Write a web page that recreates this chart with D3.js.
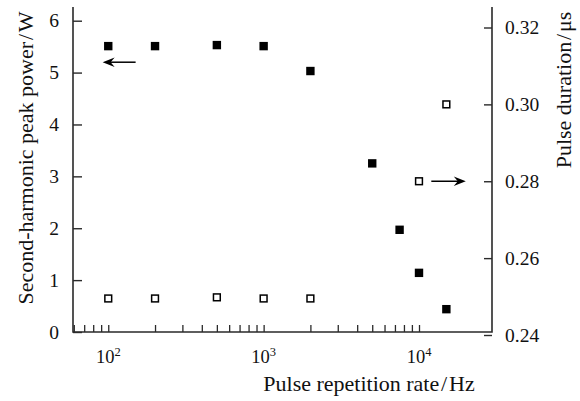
<!DOCTYPE html>
<html>
<head>
<meta charset="utf-8">
<script src="https://cdn.jsdelivr.net/npm/d3@7"></script>
<style>
body { margin: 0; background: #fff; }
svg { display: block; }
text { font-family: "Liberation Serif", "Times New Roman", serif; fill: #111; }
</style>
</head>
<body>
<svg id="chart" width="580" height="401"></svg>
<script>
// second-harmonic peak power (left axis)
const powerRate = [100, 200, 500, 1000, 2000, 5000, 7500, 10000, 15000];
const powerW = [5.51, 5.51, 5.53, 5.51, 5.03, 3.25, 1.97, 1.14, 0.44];

// pulse duration (right axis)
const durationRate = [100, 200, 500, 1000, 2000, 10000, 15000];
const durationUs = [0.2495, 0.2495, 0.2498, 0.2495, 0.2495, 0.28, 0.30];

const powerTicks = [0, 1, 2, 3, 4, 5, 6];
const durationTicks = [0.24, 0.26, 0.28, 0.30, 0.32];
const decadeTicks = [100, 1000, 10000];

// arrows: [fromRate, toRate, value]
const powerArrow = [150, 92, 5.2];
const durationArrow = [12000, 20000, 0.28];

const svg = d3.select("#chart");
const plotLeft = 73, plotRight = 492, plotTop = 7, plotBottom = 332;

const x = d3.scaleLog().domain([59.3, 29500]).range([plotLeft, plotRight]);
const yL = d3.scaleLinear().domain([0, 6]).range([plotBottom, 20.7]);
const yR = d3.scaleLinear().domain([0.24, 0.32]).range([335, 27.5]);

const axisColor = "#2a2a2a";

// frame (open top)
svg.append("path")
    .attr("d", `M${plotLeft},${plotTop}V${plotBottom}H${plotRight}V${plotTop}`)
    .attr("fill", "none")
    .attr("stroke", axisColor)
    .attr("stroke-width", 1.6);

// bottom log ticks, pointing inward
const minor = x.ticks().filter(d => d >= 60 && d <= 10000);
svg.append("g")
    .attr("transform", `translate(0,${plotBottom})`)
    .call(d3.axisBottom(x).tickValues(minor).tickSize(-7).tickFormat(""))
    .call(g => g.select(".domain").remove())
    .call(g => g.selectAll("line").attr("stroke", axisColor).attr("stroke-width", 1.3));

const decLabels = svg.append("g").selectAll("text")
    .data(decadeTicks)
    .enter()
    .append("text")
    .attr("x", d => x(d))
    .attr("y", 363)
    .attr("text-anchor", "middle")
    .attr("font-size", 18.5);
decLabels.append("tspan").text("10");
decLabels.append("tspan")
    .attr("dy", -7)
    .attr("font-size", 12.5)
    .text(d => Math.round(Math.log10(d)));

// left axis
svg.append("g")
    .attr("transform", `translate(${plotLeft},0)`)
    .call(d3.axisLeft(yL).tickValues(powerTicks).tickSize(-9).tickPadding(14).tickFormat(d3.format("d")))
    .call(g => g.select(".domain").remove())
    .call(g => g.selectAll("line").attr("stroke", axisColor).attr("stroke-width", 1.4))
    .call(g => g.selectAll("text").attr("font-size", 19.5).attr("font-family", null).attr("fill", "#111"));

// right axis
svg.append("g")
    .attr("transform", `translate(${plotRight},0)`)
    .call(d3.axisRight(yR).tickValues(durationTicks).tickSize(-8).tickPadding(13).tickFormat(d3.format(".2f")))
    .call(g => g.select(".domain").remove())
    .call(g => g.selectAll("line").attr("stroke", axisColor).attr("stroke-width", 1.4))
    .call(g => g.selectAll("text").attr("font-size", 19.5).attr("font-family", null).attr("fill", "#111"));

// axis titles
svg.append("text")
    .attr("transform", "translate(33,158) rotate(-90)")
    .attr("text-anchor", "middle")
    .attr("font-size", 22)
    .text("Second-harmonic peak power\u200a/\u200aW");

svg.append("text")
    .attr("transform", "translate(571,90) rotate(-90)")
    .attr("text-anchor", "middle")
    .attr("font-size", 22)
    .text("Pulse duration\u200a/\u200a\u03bcs");

svg.append("text")
    .attr("x", 369)
    .attr("y", 391)
    .attr("text-anchor", "middle")
    .attr("font-size", 22)
    .text("Pulse repetition rate\u200a/\u200aHz");

// markers
const power = powerRate.map((r, i) => ({ r: r, v: powerW[i] }));
const duration = durationRate.map((r, i) => ({ r: r, v: durationUs[i] }));

svg.append("g").selectAll("rect")
    .data(power)
    .enter()
    .append("rect")
    .attr("x", d => x(d.r) - 4.2)
    .attr("y", d => yL(d.v) - 4.2)
    .attr("width", 8.4)
    .attr("height", 8.4)
    .attr("fill", "#000");

svg.append("g").selectAll("rect")
    .data(duration)
    .enter()
    .append("rect")
    .attr("x", d => x(d.r) - 3.4)
    .attr("y", d => yR(d.v) - 3.4)
    .attr("width", 6.8)
    .attr("height", 6.8)
    .attr("fill", "#fff")
    .attr("stroke", "#000")
    .attr("stroke-width", 1.5);

// arrows
function arrow(x0, x1, yy) {
    const dir = x1 > x0 ? 1 : -1;
    const g = svg.append("g");
    g.append("line")
        .attr("x1", x0).attr("x2", x1 - dir * 6)
        .attr("y1", yy).attr("y2", yy)
        .attr("stroke", "#000")
        .attr("stroke-width", 1.5);
    g.append("path")
        .attr("d", `M${x1},${yy}L${x1 - dir * 12},${yy - 4.8}L${x1 - dir * 8},${yy}L${x1 - dir * 12},${yy + 4.8}Z`)
        .attr("fill", "#000");
}
arrow(x(powerArrow[0]), x(powerArrow[1]), yL(powerArrow[2]));
arrow(x(durationArrow[0]), x(durationArrow[1]), yR(durationArrow[2]));
</script>
</body>
</html>
